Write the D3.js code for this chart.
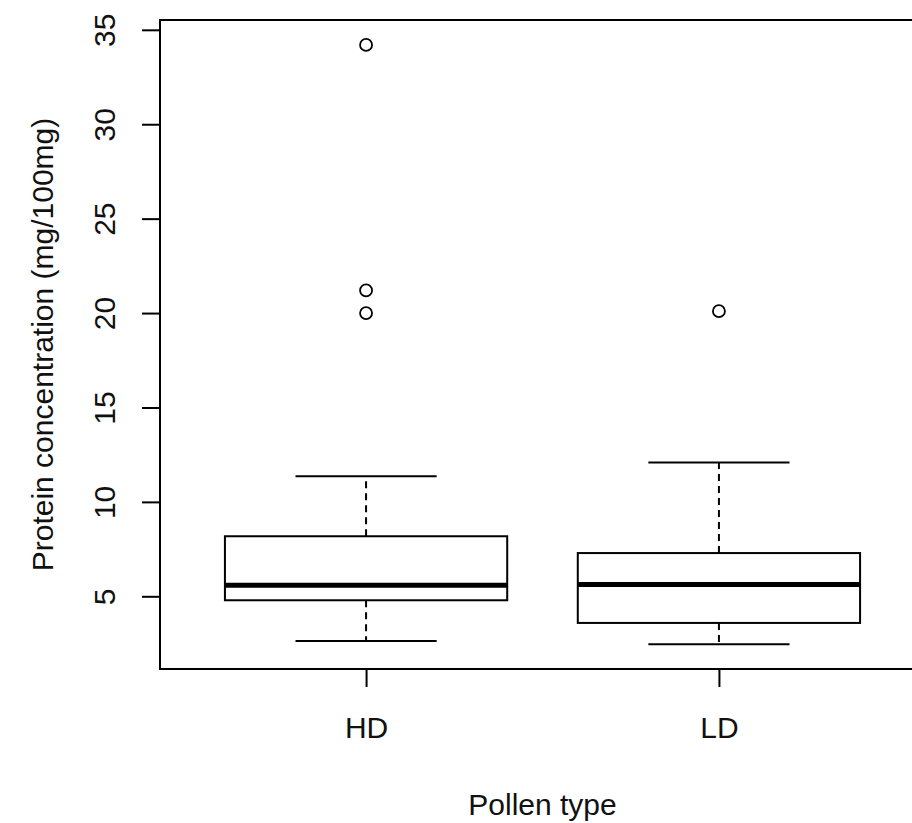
<!DOCTYPE html>
<html>
<head>
<meta charset="utf-8">
<script src="https://cdn.jsdelivr.net/npm/d3@7"></script>
<style>
  html, body { margin: 0; padding: 0; background: #fff; }
  svg { display: block; }
  text { font-family: "Liberation Sans", Arial, Helvetica, sans-serif; fill: #111; }
</style>
</head>
<body>
<svg id="chart" width="912" height="823"></svg>
<script>
// ---- Data ----
const categories = ["HD", "LD"];
const whiskerLow  = [2.63, 2.46];
const boxLow      = [4.79, 3.59];
const medians     = [5.58, 5.62];
const boxHigh     = [8.18, 7.29];
const whiskerHigh = [11.36, 12.09];
const outliersHD  = [34.2, 21.2, 20.0];
const outliersLD  = [20.1];
const outliers    = [outliersHD, outliersLD];
const yTicks      = [5, 10, 15, 20, 25, 30, 35];
const xTitle = "Pollen type";
const yTitle = "Protein concentration (mg/100mg)";

// ---- Layout ----
const W = 912, H = 823;
const plot = { left: 160, right: 925, top: 20, bottom: 669 };
const svg = d3.select("#chart");

const y = d3.scaleLinear().domain([1.15, 35.52]).range([plot.bottom, plot.top]);
const x = d3.scalePoint().domain(categories).range([plot.left, plot.right]).padding(0.584);
const step = x.step();
const boxHalf = step * 0.4;
const capHalf = boxHalf / 2;

// ---- Boxes ----
const g = svg.append("g");
categories.forEach((c, i) => {
  const cx = x(c);
  // dashed whiskers
  g.append("line").attr("x1", cx).attr("x2", cx)
    .attr("y1", y(boxHigh[i])).attr("y2", y(whiskerHigh[i]))
    .attr("stroke", "#000").attr("stroke-width", 2).attr("stroke-dasharray", "7,5");
  g.append("line").attr("x1", cx).attr("x2", cx)
    .attr("y1", y(boxLow[i])).attr("y2", y(whiskerLow[i]))
    .attr("stroke", "#000").attr("stroke-width", 2).attr("stroke-dasharray", "7,5");
  // caps
  [whiskerHigh[i], whiskerLow[i]].forEach(v => {
    g.append("line").attr("x1", cx - capHalf).attr("x2", cx + capHalf)
      .attr("y1", y(v)).attr("y2", y(v))
      .attr("stroke", "#000").attr("stroke-width", 2);
  });
  // box
  g.append("rect").attr("x", cx - boxHalf).attr("width", 2 * boxHalf)
    .attr("y", y(boxHigh[i])).attr("height", y(boxLow[i]) - y(boxHigh[i]))
    .attr("fill", "none").attr("stroke", "#000").attr("stroke-width", 2);
  // median
  g.append("line").attr("x1", cx - boxHalf).attr("x2", cx + boxHalf)
    .attr("y1", y(medians[i])).attr("y2", y(medians[i]))
    .attr("stroke", "#000").attr("stroke-width", 5);
  // outliers
  g.selectAll(null).data(outliers[i]).enter().append("circle")
    .attr("cx", cx).attr("cy", d => y(d)).attr("r", 6)
    .attr("fill", "none").attr("stroke", "#000").attr("stroke-width", 1.8);
});

// ---- Plot frame ----
svg.append("rect")
  .attr("x", plot.left).attr("y", plot.top)
  .attr("width", plot.right - plot.left).attr("height", plot.bottom - plot.top)
  .attr("fill", "none").attr("stroke", "#000").attr("stroke-width", 2);

// ---- Y axis ----
const yAxis = svg.append("g").attr("transform", `translate(${plot.left},0)`)
  .call(d3.axisLeft(y).tickValues(yTicks).tickSize(18).tickFormat(d3.format("d")));
yAxis.select(".domain").remove();
yAxis.selectAll(".tick line").attr("stroke", "#000").attr("stroke-width", 2);
yAxis.selectAll(".tick text")
  .attr("x", null).attr("dy", null)
  .attr("transform", "translate(-45,0) rotate(-90)")
  .attr("text-anchor", "middle")
  .style("font-size", "30px")
  .style("font-family", '"Liberation Sans", Arial, sans-serif')
  .attr("fill", "#111");

// ---- X axis ----
const xAxis = svg.append("g").attr("transform", `translate(0,${plot.bottom})`)
  .call(d3.axisBottom(x).tickSize(18).tickPadding(0));
xAxis.select(".domain").remove();
xAxis.selectAll(".tick line").attr("stroke", "#000").attr("stroke-width", 2);
xAxis.selectAll(".tick text")
  .attr("y", 69).attr("dy", null)
  .style("font-size", "30px")
  .style("font-family", '"Liberation Sans", Arial, sans-serif')
  .attr("fill", "#111");

// ---- Titles ----
svg.append("text")
  .attr("x", (plot.left + plot.right) / 2).attr("y", 815)
  .attr("text-anchor", "middle").style("font-size", "30px")
  .text(xTitle);
svg.append("text")
  .attr("transform", `translate(53,${(plot.top + plot.bottom) / 2}) rotate(-90)`)
  .attr("text-anchor", "middle").style("font-size", "30px")
  .text(yTitle);
</script>
</body>
</html>
